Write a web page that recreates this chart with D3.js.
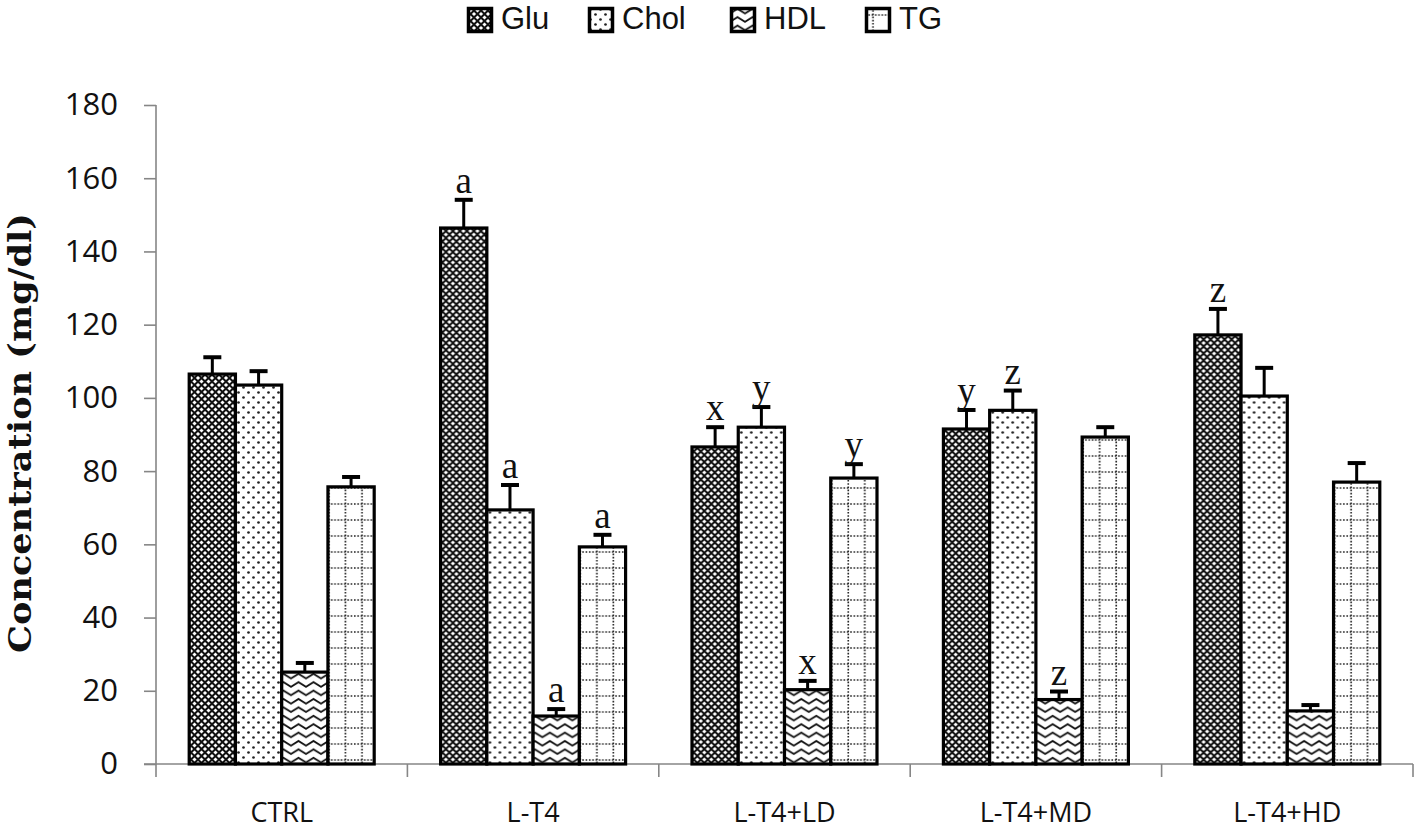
<!DOCTYPE html>
<html>
<head>
<meta charset="utf-8">
<script src="https://cdn.jsdelivr.net/npm/d3@7"></script>
<style>
  body { margin: 0; background: #fff; }
  svg { display: block; }
</style>
</head>
<body>
<div class="chart"></div>
<script>
const width = 1418;
const height = 834;

const categories = ['CTRL', 'L-T4', 'L-T4+LD', 'L-T4+MD', 'L-T4+HD'];
const series = ['Glu', 'Chol', 'HDL', 'TG'];

const glu = [106.5, 146.4, 86.6, 91.5, 117.2];
const gluErr = [4.6, 7.7, 5.4, 5.2, 7.1];
const chol = [103.5, 69.4, 92.0, 96.6, 100.5];
const cholErr = [3.8, 6.8, 5.5, 5.4, 7.7];
const hdl = [25.1, 13.1, 20.3, 17.6, 14.5];
const hdlErr = [2.5, 1.9, 2.4, 2.2, 1.6];
const tg = [75.7, 59.3, 78.1, 89.3, 77.0];
const tgErr = [2.7, 3.3, 3.8, 2.7, 5.2];

// significance letters above the error bars
const gluSig = ['', 'a', 'x', 'y', 'z'];
const cholSig = ['', 'a', 'y', 'z', ''];
const hdlSig = ['', 'a', 'x', 'z', ''];
const tgSig = ['', 'a', 'y', '', ''];

const yTicks = [0, 20, 40, 60, 80, 100, 120, 140, 160, 180];

const values = [glu, chol, hdl, tg];
const errors = [gluErr, cholErr, hdlErr, tgErr];
const sigs = [gluSig, cholSig, hdlSig, tgSig];
const patternIds = ['pGlu', 'pChol', 'pHdl', 'pTg'];

const svg = d3.select('.chart').append('svg')
    .attr('width', width)
    .attr('height', height);

/*      Patterns       */
const defs = svg.append('defs');

// Glu: black with white diamonds
const pg = defs.append('pattern').attr('id', 'pGlu')
    .attr('patternUnits', 'userSpaceOnUse').attr('width', 7).attr('height', 7);
pg.append('rect').attr('width', 7).attr('height', 7).attr('fill', '#111');
pg.append('path').attr('fill', '#fff')
    .attr('d', 'M3.5,1.4 L5.6,3.5 L3.5,5.6 L1.4,3.5 Z M0,-2.1 L2.1,0 L0,2.1 L-2.1,0 Z M7,-2.1 L9.1,0 L7,2.1 L4.9,0 Z M0,4.9 L2.1,7 L0,9.1 L-2.1,7 Z M7,4.9 L9.1,7 L7,9.1 L4.9,7 Z');

// Chol: sparse staggered dots
const pc = defs.append('pattern').attr('id', 'pChol')
    .attr('patternUnits', 'userSpaceOnUse').attr('width', 10).attr('height', 10);
pc.append('rect').attr('width', 10).attr('height', 10).attr('fill', '#fff');
pc.append('circle').attr('cx', 2.5).attr('cy', 2.5).attr('r', 1.35).attr('fill', '#222');
pc.append('circle').attr('cx', 7.5).attr('cy', 7.5).attr('r', 1.35).attr('fill', '#222');

// HDL: zigzag waves
const ph = defs.append('pattern').attr('id', 'pHdl')
    .attr('patternUnits', 'userSpaceOnUse').attr('width', 15).attr('height', 8.4);
ph.append('rect').attr('width', 15).attr('height', 8.4).attr('fill', '#fff');
ph.append('path').attr('fill', 'none').attr('stroke', '#111').attr('stroke-width', 1.8)
    .attr('d', 'M-3.75,4 L0,6.5 L7.5,1.8 L15,6.5 L18.75,4');

// TG: dotted grid
const pt = defs.append('pattern').attr('id', 'pTg')
    .attr('patternUnits', 'userSpaceOnUse').attr('width', 16.5).attr('height', 16);
pt.append('rect').attr('width', 16.5).attr('height', 16).attr('fill', '#fff');
pt.append('line').attr('x1', 0).attr('x2', 16.5).attr('y1', 8).attr('y2', 8)
    .attr('stroke', '#222').attr('stroke-width', 1.6).attr('stroke-dasharray', '1.6,1.7');
pt.append('line').attr('x1', 8).attr('x2', 8).attr('y1', 0).attr('y2', 16)
    .attr('stroke', '#222').attr('stroke-width', 1.6).attr('stroke-dasharray', '1.6,1.6');

/*      Scales       */
const x = d3.scaleBand()
    .domain(categories)
    .range([156, 1413]);
const xSub = d3.scaleBand()
    .domain(series)
    .range([0, x.bandwidth()])
    .paddingOuter(0.718);
const y = d3.scaleLinear()
    .domain([0, 180])
    .range([764, 105]);

/*      Axes       */
const yAxis = svg.append('g')
    .attr('transform', 'translate(156,0)')
    .call(d3.axisLeft(y).tickValues(yTicks).tickSize(12).tickPadding(26));
yAxis.select('.domain').attr('stroke', '#868686').attr('stroke-width', 1.6)
    .attr('d', `M0,${y(180)}H0V${y(0)}`);
yAxis.selectAll('.tick line').attr('stroke', '#868686').attr('stroke-width', 1.6);
yAxis.selectAll('.tick text')
    .attr('font-family', 'Open Sans, sans-serif')
    .attr('font-size', 31)
    .attr('fill', '#111');

const xAxis = svg.append('g')
    .attr('transform', `translate(0,${y(0)})`);
xAxis.append('line')
    .attr('x1', 144).attr('x2', 1413)
    .attr('stroke', '#868686').attr('stroke-width', 1.6);
const boundaries = categories.map(c => x(c)).concat([x(categories[categories.length - 1]) + x.bandwidth()]);
xAxis.selectAll('.xtick')
    .data(boundaries)
    .enter()
    .append('line')
    .attr('x1', d => d).attr('x2', d => d)
    .attr('y1', 0).attr('y2', 13)
    .attr('stroke', '#868686').attr('stroke-width', 1.6);
xAxis.selectAll('.xlabel')
    .data(categories)
    .enter()
    .append('text')
    .attr('x', d => x(d) + x.bandwidth() / 2)
    .attr('y', 58)
    .attr('text-anchor', 'middle')
    .attr('font-family', 'Open Sans, sans-serif')
    .attr('font-size', 27)
    .attr('fill', '#111')
    .text(d => d);

/*      Bars       */
const groups = svg.selectAll('.grp')
    .data(categories)
    .enter()
    .append('g')
    .attr('transform', d => `translate(${x(d)},0)`);

series.forEach((s, si) => {
    groups.append('rect')
        .attr('x', xSub(s))
        .attr('y', (d, i) => y(values[si][i]))
        .attr('width', xSub.bandwidth())
        .attr('height', (d, i) => y(0) - y(values[si][i]))
        .attr('fill', `url(#${patternIds[si]})`)
        .attr('stroke', '#000')
        .attr('stroke-width', 3.2);
});

/*      Error bars and letters       */
series.forEach((s, si) => {
    const cx = xSub(s) + xSub.bandwidth() / 2;
    groups.append('line')
        .attr('x1', cx).attr('x2', cx)
        .attr('y1', (d, i) => y(values[si][i]))
        .attr('y2', (d, i) => y(values[si][i] + errors[si][i]))
        .attr('stroke', '#000').attr('stroke-width', 3);
    groups.append('line')
        .attr('x1', cx - 9).attr('x2', cx + 9)
        .attr('y1', (d, i) => y(values[si][i] + errors[si][i]))
        .attr('y2', (d, i) => y(values[si][i] + errors[si][i]))
        .attr('stroke', '#000').attr('stroke-width', 4);
    groups.append('text')
        .attr('x', cx)
        .attr('y', (d, i) => y(values[si][i] + errors[si][i]) - 7)
        .attr('text-anchor', 'middle')
        .attr('font-family', 'Liberation Serif, serif')
        .attr('font-size', 37)
        .attr('fill', '#111')
        .text((d, i) => sigs[si][i]);
});

/*      Y axis title       */
svg.append('text')
    .attr('transform', 'translate(31,433) rotate(-90)')
    .attr('text-anchor', 'middle')
    .attr('font-family', 'DejaVu Serif, serif')
    .attr('font-weight', 'bold')
    .attr('font-size', 31)
    .attr('textLength', 440)
    .attr('lengthAdjust', 'spacingAndGlyphs')
    .attr('fill', '#111')
    .text('Concentration (mg/dl)');

/*      Legend       */
const legendX = [467, 588, 730, 865];
const legend = svg.selectAll('.legend')
    .data(series)
    .enter()
    .append('g')
    .attr('transform', (d, i) => `translate(${legendX[i]},7)`);
legend.append('rect')
    .attr('x', 1.5).attr('y', 1.5)
    .attr('width', 23).attr('height', 23)
    .attr('fill', (d, i) => `url(#${patternIds[i]})`)
    .attr('stroke', '#000')
    .attr('stroke-width', 3.5);
legend.append('text')
    .attr('x', 34)
    .attr('y', 22)
    .attr('font-family', 'Liberation Sans, Arial, sans-serif')
    .attr('font-size', 31)
    .attr('fill', '#111')
    .text(d => d);
</script>
</body>
</html>
